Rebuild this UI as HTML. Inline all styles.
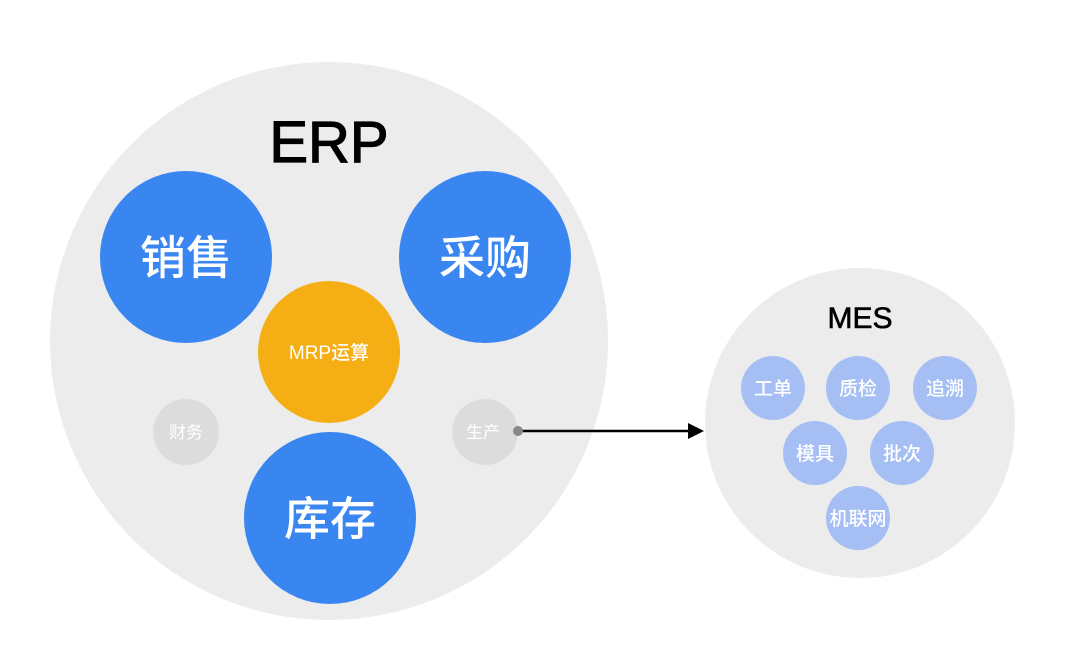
<!DOCTYPE html>
<html><head><meta charset="utf-8"><style>
html,body{margin:0;padding:0;background:#fff;}
svg text{font-family:"Liberation Sans","Noto Sans CJK SC",sans-serif;}
</style></head><body>
<svg width="1080" height="651" viewBox="0 0 1080 651" xmlns="http://www.w3.org/2000/svg">
<circle cx="329" cy="341" r="279" fill="#ececec"/>
<text x="329" y="162" font-size="58" text-anchor="middle" fill="#000" stroke="#000" stroke-width="1.2">ERP</text>
<circle cx="186" cy="257" r="86" fill="#3a86f0"/>
<text x="186" y="274" font-size="46" font-weight="500" text-anchor="middle" fill="#fff">销售</text>
<circle cx="485" cy="257" r="86" fill="#3a86f0"/>
<text x="485" y="274" font-size="46" font-weight="500" text-anchor="middle" fill="#fff">采购</text>
<circle cx="329" cy="352" r="71" fill="#f5ae14"/>
<text x="329" y="359" font-size="19" font-weight="500" text-anchor="middle" fill="#fff">MRP运算</text>
<circle cx="330" cy="518" r="86" fill="#3a86f0"/>
<text x="330" y="535" font-size="46" font-weight="500" text-anchor="middle" fill="#fff">库存</text>
<circle cx="186" cy="432" r="33" fill="#dcdcdc"/>
<text x="186" y="438" font-size="17" text-anchor="middle" fill="#fff">财务</text>
<circle cx="485" cy="432" r="33" fill="#dcdcdc"/>
<text x="483" y="438" font-size="17" text-anchor="middle" fill="#fff">生产</text>
<line x1="518" y1="431" x2="690" y2="431" stroke="#000" stroke-width="2.5"/>
<polygon points="688,423 704,431 688,439" fill="#000"/>
<circle cx="518" cy="431" r="5" fill="#888"/>
<circle cx="860" cy="423" r="155" fill="#ececec"/>
<text x="860" y="328" font-size="30" text-anchor="middle" fill="#000" stroke="#000" stroke-width="0.6">MES</text>
<g fill="#a5bff5">
<circle cx="773" cy="388" r="32"/><circle cx="858" cy="388" r="32"/><circle cx="945" cy="388" r="32"/>
<circle cx="815" cy="453" r="32"/><circle cx="902" cy="453" r="32"/><circle cx="858" cy="518" r="32"/>
</g>
<g font-size="19" font-weight="500" text-anchor="middle" fill="#fff">
<text x="773" y="395">工单</text><text x="858" y="395">质检</text><text x="945" y="395">追溯</text>
<text x="815" y="460">模具</text><text x="902" y="460">批次</text><text x="858" y="525">机联网</text>
</g>
</svg>
</body></html>
